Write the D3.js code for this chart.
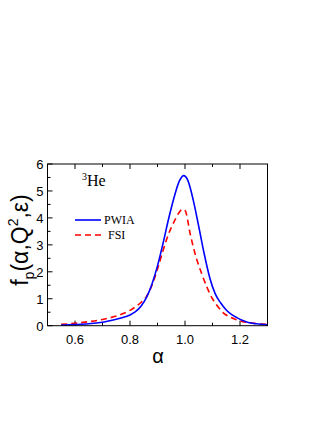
<!DOCTYPE html>
<html><head><meta charset="utf-8">
<script src="https://cdn.jsdelivr.net/npm/d3@7"></script>
<style>body{margin:0;background:#fff}svg{display:block}</style>
</head><body>
<script>
const alphaPWIA = [0.55,0.60,0.65,0.70,0.75,0.78,0.80,0.82,0.84,0.86,0.88,0.90,0.92,0.94,0.96,0.98,0.995,1.01,1.03,1.05,1.07,1.09,1.11,1.13,1.15,1.17,1.19,1.21,1.23,1.26,1.30];
const valPWIA   = [0.02,0.04,0.07,0.13,0.24,0.32,0.40,0.52,0.72,1.05,1.55,2.22,3.05,3.95,4.75,5.38,5.57,5.40,4.66,3.68,2.66,1.78,1.18,0.84,0.58,0.41,0.29,0.19,0.12,0.07,0.03];
const alphaFSI = [0.55,0.60,0.65,0.70,0.75,0.78,0.80,0.82,0.84,0.86,0.88,0.90,0.92,0.94,0.96,0.98,0.99,1.00,1.02,1.04,1.06,1.08,1.10,1.12,1.14,1.16,1.18,1.20,1.22,1.25,1.28,1.30];
const valFSI   = [0.05,0.09,0.15,0.23,0.36,0.47,0.57,0.70,0.86,1.08,1.50,2.10,2.78,3.40,3.85,4.22,4.32,4.28,3.35,2.55,1.95,1.42,1.00,0.70,0.47,0.34,0.25,0.18,0.13,0.09,0.06,0.05];
const xTickLabels = [0.6,0.8,1.0,1.2];
const yTickLabels = [0,1,2,3,4,5,6];
const legendLabels = ["PWIA","FSI"];

const W=332,H=430;
const svg=d3.select("body").append("svg").attr("width",W).attr("height",H);
const L=47.5,R=267.5,T=164,B=325.7;
const x=d3.scaleLinear().domain([0.5,1.3]).range([L,R]);
const y=d3.scaleLinear().domain([0,6]).range([B,T]);

const g=svg.append("g");
const xMinor=d3.range(0.5,1.3001,0.1).map(v=>+v.toFixed(2));
const yMinor=d3.range(0,6.001,0.5);
const tickG=g.append("g").attr("stroke","#000").attr("stroke-width",1);
xMinor.forEach(v=>{
  const major=xTickLabels.some(t=>Math.abs(t-v)<1e-6);
  const len=major?5:3;
  tickG.append("line").attr("x1",x(v)).attr("x2",x(v)).attr("y1",B).attr("y2",B-len);
  tickG.append("line").attr("x1",x(v)).attr("x2",x(v)).attr("y1",T).attr("y2",T+len);
});
yMinor.forEach(v=>{
  const major=Number.isInteger(v);
  const len=major?5:3;
  tickG.append("line").attr("x1",L).attr("x2",L+len).attr("y1",y(v)).attr("y2",y(v));
});
g.selectAll(".xl").data(xTickLabels).enter().append("text")
  .attr("x",d=>x(d)).attr("y",B+18).attr("text-anchor","middle")
  .attr("font-family","Liberation Sans, Arial, sans-serif").attr("font-size",13)
  .text(d=>d3.format(".1f")(d));
g.selectAll(".yl").data(yTickLabels).enter().append("text")
  .attr("x",L-4).attr("y",d=>y(d)+5).attr("text-anchor","end")
  .attr("font-family","Liberation Sans, Arial, sans-serif").attr("font-size",13)
  .text(d=>d);

const line=d3.line().x(d=>x(d[0])).y(d=>y(d[1])).curve(d3.curveMonotoneX);
svg.append("clipPath").attr("id","c").append("rect").attr("x",L).attr("y",T).attr("width",R-L).attr("height",B-T);
g.append("path").datum(alphaFSI.map((a,i)=>[a,valFSI[i]])).attr("d",line)
  .attr("fill","none").attr("stroke","#ff0000").attr("stroke-width",1.6).attr("stroke-dasharray","6,4").attr("clip-path","url(#c)");
g.append("path").datum(alphaPWIA.map((a,i)=>[a,valPWIA[i]])).attr("d",line)
  .attr("fill","none").attr("stroke","#0000ff").attr("stroke-width",1.6).attr("clip-path","url(#c)");

g.append("rect").attr("x",L).attr("y",T).attr("width",R-L).attr("height",B-T)
  .attr("fill","none").attr("stroke","#000").attr("stroke-width",1);

const lg=g.append("g").attr("font-family","Liberation Serif, Times New Roman, serif").attr("font-size",12);
lg.append("line").attr("x1",75).attr("x2",101).attr("y1",220).attr("y2",220).attr("stroke","#0000ff").attr("stroke-width",1.6);
lg.append("text").attr("x",104).attr("y",224).text(legendLabels[0]);
lg.append("line").attr("x1",75).attr("x2",102).attr("y1",235).attr("y2",235).attr("stroke","#ff0000").attr("stroke-width",1.6).attr("stroke-dasharray","6,4");
lg.append("text").attr("x",108).attr("y",239).text(legendLabels[1]);

const he=g.append("text").attr("x",82).attr("y",186).attr("font-family","Liberation Serif, Times New Roman, serif").attr("font-size",16);
he.append("tspan").attr("font-size",10).attr("dy",-6).text("3");
he.append("tspan").attr("dy",6).text("He");

g.append("text").attr("x",158).attr("y",363).attr("text-anchor","middle")
  .attr("font-family","Liberation Sans, Arial, sans-serif").attr("font-size",20).text("α");
const yl=g.append("text").attr("transform","translate(28,240) rotate(-90)").attr("text-anchor","middle")
  .attr("font-family","Liberation Sans, Arial, sans-serif").attr("font-size",23);
yl.append("tspan").text("f");
yl.append("tspan").attr("font-size",14).attr("dy",6).text("p");
yl.append("tspan").attr("dy",-6).text("(α,Q");
yl.append("tspan").attr("font-size",14).attr("dy",-10).text("2");
yl.append("tspan").attr("dy",10).text(",ε)");
</script>
</body></html>
